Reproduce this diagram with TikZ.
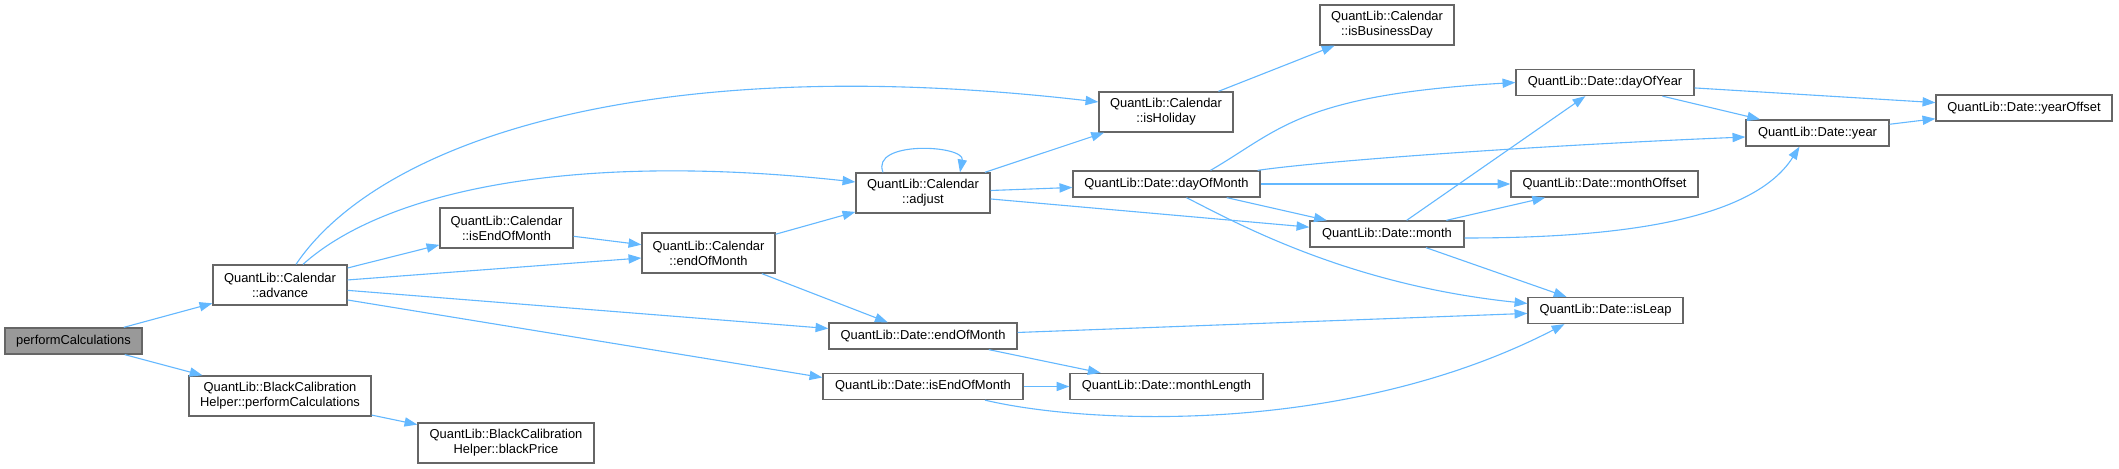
\documentclass[tikz,border=0pt]{standalone}
\usepackage{fontspec}
\setmainfont{Liberation Sans}
\usetikzlibrary{arrows.meta,calc}
\definecolor{edgeblue}{HTML}{63B8FF}
\definecolor{nodeborder}{HTML}{666666}
\definecolor{rootfill}{HTML}{999999}
\tikzset{
  box/.style={draw=nodeborder, line width=0.65pt, fill=white, inner sep=0pt, align=center,
    font=\fontsize{6.45pt}{7.5pt}\selectfont},
  rootbox/.style={box, fill=rootfill},
  edge/.style={draw=edgeblue, line width=0.55pt, -{Triangle[length=6.4pt,width=4.6pt]}},
}
\begin{document}
\begin{tikzpicture}[x=0.5pt,y=-0.5pt]
\useasboundingbox[fill=white] (0,0) rectangle (2119,469);
% nodes
\node[rootbox, minimum width=68.5pt, minimum height=13pt] (pc) at (73.5,341) {performCalculations};
\node[box, minimum width=67pt, minimum height=20pt] (adv) at (280,285) {QuantLib::Calendar\\::advance};
\node[box, minimum width=91pt, minimum height=20pt] (bchpc) at (280,396) {QuantLib::BlackCalibration\\Helper::performCalculations};
\node[box, minimum width=88pt, minimum height=20pt] (bp) at (506,443) {QuantLib::BlackCalibration\\Helper::blackPrice};
\node[box, minimum width=66.5pt, minimum height=20pt] (cieom) at (506.5,228) {QuantLib::Calendar\\::isEndOfMonth};
\node[box, minimum width=66.5pt, minimum height=20pt] (ceom) at (708.5,253) {QuantLib::Calendar\\::endOfMonth};
\node[box, minimum width=67pt, minimum height=20pt] (adj) at (923,193) {QuantLib::Calendar\\::adjust};
\node[box, minimum width=94pt, minimum height=13pt] (deom) at (923,336) {QuantLib::Date::endOfMonth};
\node[box, minimum width=100pt, minimum height=13pt] (dieom) at (923,386.5) {QuantLib::Date::isEndOfMonth};
\node[box, minimum width=96.5pt, minimum height=13pt] (mlen) at (1166.5,386.5) {QuantLib::Date::monthLength};
\node[box, minimum width=67pt, minimum height=20pt] (ibd) at (1387,25) {QuantLib::Calendar\\::isBusinessDay};
\node[box, minimum width=67pt, minimum height=20pt] (ihol) at (1166,112) {QuantLib::Calendar\\::isHoliday};
\node[box, minimum width=93.5pt, minimum height=13pt] (dom) at (1166.5,184) {QuantLib::Date::dayOfMonth};
\node[box, minimum width=77pt, minimum height=13pt] (mon) at (1387,234) {QuantLib::Date::month};
\node[box, minimum width=89pt, minimum height=13pt] (doy) at (1605,82.5) {QuantLib::Date::dayOfYear};
\node[box, minimum width=88pt, minimum height=13pt] (yoff) at (2024,108) {QuantLib::Date::yearOffset};
\node[box, minimum width=71.5pt, minimum height=13pt] (year) at (1817.5,133) {QuantLib::Date::year};
\node[box, minimum width=93.5pt, minimum height=13pt] (moff) at (1604.5,184) {QuantLib::Date::monthOffset};
\node[box, minimum width=77.5pt, minimum height=13pt] (leap) at (1605.5,310.5) {QuantLib::Date::isLeap};
% edges
\draw[edge] (pc) -- (adv);
\draw[edge] (pc) -- (bchpc);
\draw[edge] (bchpc) -- (bp);
\draw[edge] ($(adv.north)+(16,0)$) .. controls (380,140) and (650,50) .. ($(ihol.west)+(0,-10)$);
\draw[edge] ($(adv.north)+(23,0)$) .. controls (380,195) and (560,150) .. ($(adj.west)+(0,-11)$);
\draw[edge] (adv) -- (cieom);
\draw[edge] (adv) -- (ceom);
\draw[edge] (adv) -- (deom);
\draw[edge] ($(adv.east)+(0,15)$) -- ($(dieom.west)+(0,-9)$);
\draw[edge] (cieom) -- (ceom);
\draw[edge] (ceom) -- (adj);
\draw[edge] (ceom) -- (deom);
\draw[edge] ($(adj.north)+(-40,0)$) .. controls (870,140) and (965,145) .. ($(adj.north)+(37,0)$);
\draw[edge] (adj) -- (ihol);
\draw[edge] (adj) -- (dom);
\draw[edge] (adj) -- (mon);
\draw[edge] (ihol) -- (ibd);
\draw[edge] ($(dom.north)+(44,0)$) .. controls (1280,130) and (1300,95) .. (doy.west);
\draw[edge] ($(dom.north east)+(-3,0)$) .. controls (1330,160) and (1550,145) .. ($(year.west)+(0,4)$);
\draw[edge] (dom) -- (moff);
\draw[edge] (dom) -- (mon);
\draw[edge] ($(dom.south)+(20,0)$) .. controls (1240,225) and (1350,285) .. ($(leap.west)+(0,-7)$);
\draw[edge] (mon) -- (doy);
\draw[edge] (mon) -- (moff);
\draw[edge] ($(mon.east)+(0,4)$) .. controls (1600,238) and (1750,225) .. ($(year.south)+(-18,0)$);
\draw[edge] (mon) -- (leap);
\draw[edge] (doy) -- (year);
\draw[edge] (doy) -- (yoff);
\draw[edge] (year) -- (yoff);
\draw[edge] (deom) -- (leap);
\draw[edge] (deom) -- (mlen);
\draw[edge] (dieom) -- (mlen);
\draw[edge] ($(dieom.south)+(62,0)$) .. controls (1090,425) and (1350,435) .. ($(leap.south)+(-41,0)$);
\end{tikzpicture}
\end{document}
